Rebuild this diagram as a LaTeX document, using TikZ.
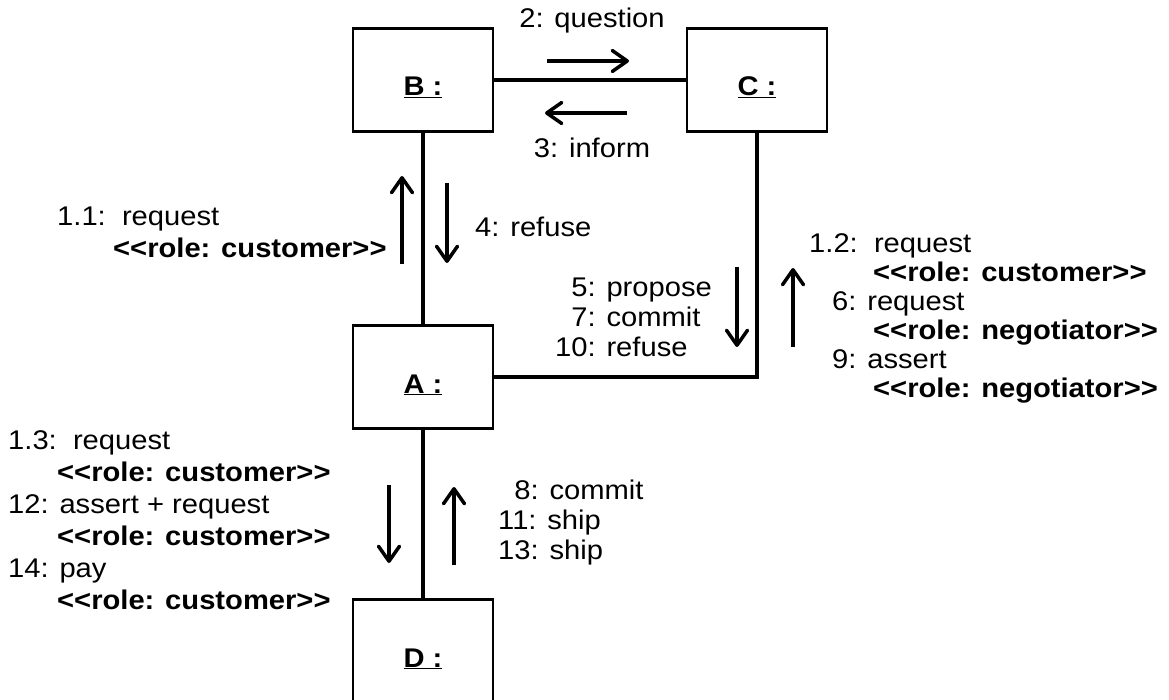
\documentclass[tikz,border=0pt]{standalone}
\usepackage{fontspec}
\usepackage{tikz}
\usetikzlibrary{arrows.meta, positioning}

\newfontfamily\diagfont{Liberation Sans}[FakeStretch=1.08]

\begin{document}
\begin{tikzpicture}[x=1pt, y=-1pt,
        font=\diagfont\fontsize{27}{31}\selectfont,
        obj/.style={draw, line width=2.5pt, minimum width=140pt, minimum height=103pt,
            inner sep=0pt, text height=32pt, text depth=0pt},
        link/.style={line width=4pt},
        msg/.style={line width=3.5pt, -{Straight Barb[length=15pt, width=21pt, round]}},
        lbl/.style={align=left, inner sep=0pt, anchor=west,
            font=\diagfont\fontsize{27}{#1}\selectfont}]
        \useasboundingbox (0,0) rectangle (1169,700);

        % agents
        \node[obj] (B) at (423,80) {\underline{\textbf{B :}}};
        \node[obj] (C) at (757,80) {\underline{\textbf{C :}}};
        \node[obj] (A) at (423,377) {\underline{\textbf{A :}}};
        \node[obj] (D) at (423,651) {\underline{\textbf{D :}}};

        % links
        \draw[link] (B) -- (C);
        \draw[link] (B) -- (A);
        \draw[link] (A) -- (D);
        \draw[link] (A.east) -| (C.south);

        % messages
        \foreach \xa/\ya/\xb/\yb in {547/61/629/61, 627/113/545/113,
                402/264/402/176, 447/183/447/263,
                737/267/737/347, 793/347/793/268,
                389/485/389/563, 454/565/454/487} {
            \draw[msg] (\xa,\ya) -- (\xb,\yb);
        }

        \node (q) at (592,21) {2: question};
        \node (inf) at (592,148) {3: inform};
        \node[lbl=32] (m11) at (57,232) {1.1:\ \ request\\
            \hspace*{56pt}\textbf{<<role: customer>>}};
        \node[lbl=31] (m4) at (475,227) {4: refuse};
        \node[lbl=30] (m5) at (555,317) {\phantom{1}5: propose\\
            \phantom{1}7: commit\\10: refuse};
        \node[lbl=29] (m12) at (809,318) {1.2:\ \ request\\
            \hspace*{64pt}\textbf{<<role: customer>>}\\
            \hspace*{23pt}6: request\\
            \hspace*{64pt}\textbf{<<role: negotiator>>}\\
            \hspace*{23pt}9: assert\\
            \hspace*{64pt}\textbf{<<role: negotiator>>}};
        \node[lbl=32] (m13) at (8,520) {1.3:\ \ request\\
            \hspace*{49pt}\textbf{<<role: customer>>}\\
            12: assert + request\\
            \hspace*{49pt}\textbf{<<role: customer>>}\\
            14: pay\\
            \hspace*{49pt}\textbf{<<role: customer>>}};
        \node[lbl=30] (m8) at (498,523) {\phantom{1}8: commit\\11: ship\\13: ship};

    \end{tikzpicture}
\end{document}
